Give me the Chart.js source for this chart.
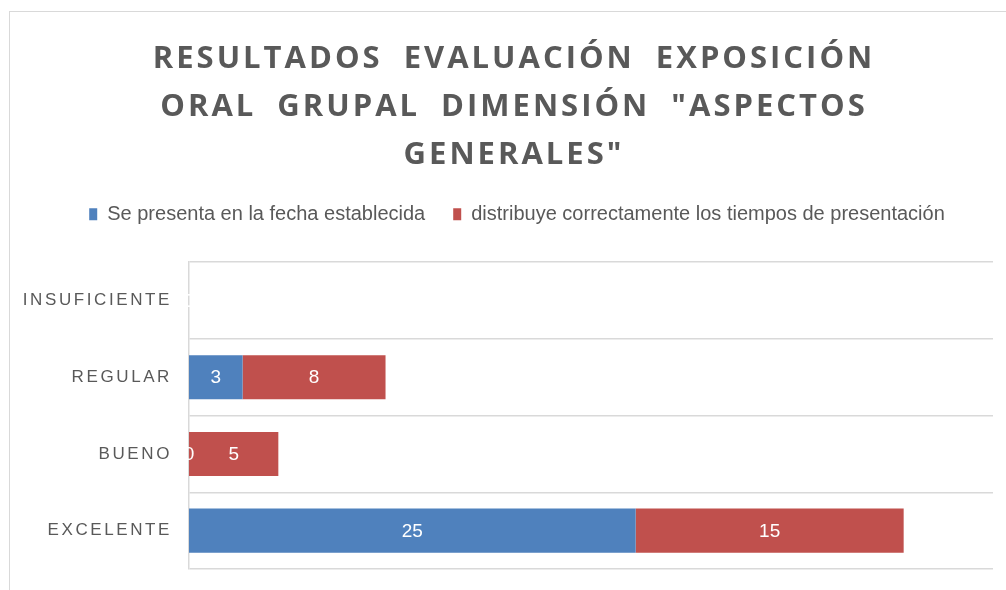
<!DOCTYPE html>
<html>
<head>
<meta charset="utf-8">
<script src="https://cdn.jsdelivr.net/npm/chart.js@4.4.1/dist/chart.umd.min.js"></script>
<style>
  html, body { margin: 0; padding: 0; background: #ffffff; overflow: hidden; }
  #wrap { position: relative; width: 1006px; height: 590px; }
  #frame { position: absolute; left: 9px; top: 11px; width: 1100px; height: 700px; border: 1.5px solid #d9d9d9; box-sizing: border-box; }
  canvas { position: absolute; left: 0; top: 0; }
</style>
</head>
<body>
<div id="wrap">
  <div id="frame"></div>
  <canvas id="c" width="1006" height="590"></canvas>
</div>
<script>
const titleLines = ['RESULTADOS EVALUACIÓN EXPOSICIÓN', 'ORAL GRUPAL DIMENSIÓN "ASPECTOS', 'GENERALES"'];
const categories = ['INSUFICIENTE', 'REGULAR', 'BUENO', 'EXCELENTE'];
const seriesNames = ['Se presenta en la fecha establecida', 'distribuye correctamente los tiempos de presentación'];
const fechaValues = [0, 3, 0, 25];
const tiemposValues = [0, 8, 5, 15];
const axisMax = 45;

const NARROW = '"Liberation Sans Narrow", "Arial Narrow", "Liberation Sans", sans-serif';
const GRAY = '#595959';
const PAD_L = 8;

const spacingPlugin = {
  id: 'spacing',
  beforeDraw(chart) {
    if (chart.$patched) return;
    chart.$patched = true;
    const tb = chart.titleBlock;
    if (tb) {
      const origT = tb.draw;
      tb.draw = function (...a) {
        const c = this.ctx; c.save();
        c.translate(13.5, 3);
        c.letterSpacing = '3px'; c.wordSpacing = '10px';
        origT.apply(this, a); c.restore();
      };
    }
    const lg = chart.legend;
    if (lg) {
      const origG = lg.draw;
      lg.draw = function (...a) {
        const c = this.ctx; c.save();
        c.translate(16.5, 0);
        origG.apply(this, a); c.restore();
      };
    }
    const ys = chart.scales.y;
    const origL = ys.drawLabels;
    ys.drawLabels = function (...a) {
      const c = this.ctx; c.save();
      c.letterSpacing = '2.6px';
      origL.apply(this, a); c.restore();
    };
  }
};

const labelPlugin = {
  id: 'barLabels',
  afterDatasetsDraw(chart) {
    const ctx = chart.ctx;
    ctx.save();
    ctx.fillStyle = '#ffffff';
    ctx.font = '19px ' + NARROW;
    ctx.textAlign = 'center';
    ctx.textBaseline = 'middle';
    chart.data.datasets.forEach((ds, i) => {
      const meta = chart.getDatasetMeta(i);
      meta.data.forEach((el, j) => {
        const p = el.getCenterPoint();
        ctx.fillText(String(ds.data[j]), p.x, p.y + 1);
      });
    });
    ctx.restore();
  }
};

new Chart(document.getElementById('c'), {
  type: 'bar',
  data: {
    labels: categories,
    datasets: [
      { label: seriesNames[0], data: fechaValues, backgroundColor: '#4F81BD', borderWidth: 0,
        categoryPercentage: 1, barPercentage: 0.575 },
      { label: seriesNames[1], data: tiemposValues, backgroundColor: '#C0504D', borderWidth: 0,
        categoryPercentage: 1, barPercentage: 0.575 }
    ]
  },
  options: {
    indexAxis: 'y',
    responsive: false,
    animation: false,
    devicePixelRatio: 1,
    layout: { padding: { left: PAD_L, right: 13, top: 0, bottom: 21 } },
    plugins: {
      tooltip: { enabled: false },
      title: {
        display: true,
        text: titleLines,
        color: GRAY,
        font: { family: '"Open Sans", sans-serif', size: 31, weight: 'bold', lineHeight: 1.55 },
        padding: { top: 32, bottom: 0 }
      },
      legend: {
        display: true,
        position: 'top',
        labels: {
          color: GRAY,
          boxWidth: 8,
          boxHeight: 12,
          padding: 28,
          font: { family: NARROW, size: 20 }
        }
      }
    },
    scales: {
      x: {
        stacked: true,
        position: 'top',
        min: 0,
        max: axisMax,
        display: true,
        ticks: { display: false },
        grid: { display: false },
        border: { display: false },
        afterFit: (s) => { s.height = 28; }
      },
      y: {
        stacked: true,
        grid: { display: true, color: '#d9d9d9', lineWidth: 1.5, drawTicks: false, offset: true },
        border: { display: true, color: '#d9d9d9', width: 1.5 },
        ticks: { color: GRAY, font: { family: NARROW, size: 17 }, padding: 17 },
        afterFit: (s) => { s.width = 189 - PAD_L; s.paddingTop = 0; s.paddingBottom = 0; }
      }
    }
  },
  plugins: [spacingPlugin, labelPlugin]
});
</script>
</body>
</html>
